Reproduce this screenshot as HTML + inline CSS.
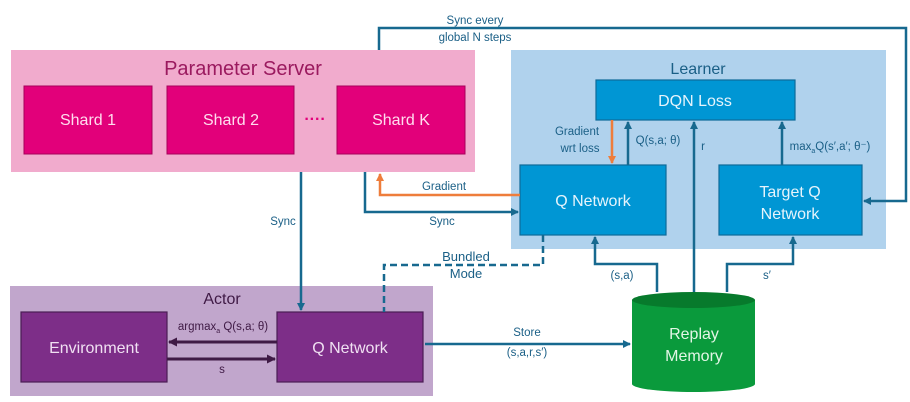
<!DOCTYPE html>
<html><head><meta charset="utf-8"><style>
html,body{margin:0;padding:0;background:#fff;width:910px;height:402px;overflow:hidden}
svg{display:block;font-family:"Liberation Sans",sans-serif}
</style></head><body>
<svg width="910" height="402" viewBox="0 0 910 402" xmlns="http://www.w3.org/2000/svg">
<defs>
<marker id="ab" markerWidth="8" markerHeight="8" refX="7" refY="4" orient="auto" markerUnits="userSpaceOnUse"><path d="M0,0 L8,4 L0,8 Z" fill="#17698f"/></marker>
<marker id="ao" markerWidth="8" markerHeight="8" refX="7" refY="4" orient="auto" markerUnits="userSpaceOnUse"><path d="M0,0 L8,4 L0,8 Z" fill="#ee7d3b"/></marker>
<marker id="ap" markerWidth="9" markerHeight="9" refX="8" refY="4.5" orient="auto" markerUnits="userSpaceOnUse"><path d="M0,0 L9,4.5 L0,9 Z" fill="#3f1a45"/></marker>
</defs>
<!-- containers -->
<rect x="11" y="50" width="464" height="122" fill="#f1abcd"/>
<rect x="511" y="50" width="375" height="199" fill="#b0d2ed"/>
<rect x="10" y="286" width="423" height="110" fill="#c1a6cc"/>
<text x="243" y="75" font-size="20" fill="#9b1a5f" text-anchor="middle">Parameter Server</text>
<text x="698" y="74" font-size="16" fill="#1a5f86" text-anchor="middle">Learner</text>
<text x="222" y="304" font-size="16" fill="#3f1a45" text-anchor="middle">Actor</text>
<!-- shards -->
<g fill="#e2007a" stroke="#a8005a" stroke-width="1">
<rect x="24" y="86" width="128" height="68"/><rect x="167" y="86" width="127" height="68"/><rect x="337" y="86" width="128" height="68"/></g>
<g font-size="16" fill="#fde" text-anchor="middle">
<text x="88" y="125">Shard 1</text><text x="231" y="125">Shard 2</text><text x="401" y="125">Shard K</text></g>
<text x="315" y="124" font-size="16" fill="#e2007a" text-anchor="middle" font-weight="bold">····</text>
<!-- learner boxes -->
<g fill="#0096d4" stroke="#0d6a9a" stroke-width="1.2">
<rect x="596" y="80" width="199" height="40"/><rect x="520" y="165" width="146" height="70"/><rect x="719" y="165" width="143" height="70"/></g>
<g font-size="16" fill="#e6f4fc" text-anchor="middle">
<text x="695" y="106">DQN Loss</text><text x="593" y="206">Q Network</text>
<text x="790" y="197">Target Q</text><text x="790" y="219">Network</text></g>
<!-- actor boxes -->
<g fill="#7d2e88" stroke="#4a1d54" stroke-width="1.2">
<rect x="21" y="312" width="146" height="70"/><rect x="277" y="312" width="146" height="70"/></g>
<g font-size="16" fill="#f0e0f2" text-anchor="middle">
<text x="94" y="353">Environment</text><text x="350" y="353">Q Network</text></g>
<!-- replay -->
<path d="M632,300 L632,384 A61.5,8 0 0 0 755,384 L755,300 Z" fill="#0a9a3c"/>
<ellipse cx="693.5" cy="300" rx="61.5" ry="8" fill="#077a2c"/>
<g font-size="16" fill="#e3f6e6" text-anchor="middle"><text x="694" y="339">Replay</text><text x="694" y="361">Memory</text></g>
<!-- connectors -->
<g fill="none" stroke="#17698f" stroke-width="2.5">
<polyline points="379,50 379,28 906,28 906,201 864,201" marker-end="url(#ab)"/>
<line x1="301" y1="172" x2="301" y2="310" marker-end="url(#ab)"/>
<polyline points="365,172 365,212 518,212" marker-end="url(#ab)"/>
<line x1="425" y1="344" x2="630" y2="344" marker-end="url(#ab)"/>
<line x1="628" y1="165" x2="628" y2="122" marker-end="url(#ab)"/>
<line x1="694" y1="292" x2="694" y2="122" marker-end="url(#ab)"/>
<line x1="782" y1="165" x2="782" y2="122" marker-end="url(#ab)"/>
<polyline points="657,292 657,264 595,264 595,237" marker-end="url(#ab)"/>
<polyline points="727,292 727,264 793,264 793,237" marker-end="url(#ab)"/>
<polyline points="543,235 543,265 384,265 384,312" stroke-dasharray="7,4"/>
</g>
<g fill="none" stroke="#ee7d3b" stroke-width="2.5">
<polyline points="520,195 380,195 380,174" marker-end="url(#ao)"/>
<line x1="612" y1="120" x2="612" y2="163" marker-end="url(#ao)"/>
</g>
<g stroke="#3f1a45" stroke-width="3">
<line x1="277" y1="342" x2="169" y2="342" marker-end="url(#ap)"/>
<line x1="167" y1="359" x2="275" y2="359" marker-end="url(#ap)"/>
</g>
<!-- labels -->
<g font-size="11.5" fill="#1a5f86" text-anchor="middle">
<text x="475" y="24">Sync every</text><text x="475" y="41">global N steps</text>
<text x="283" y="225">Sync</text><text x="442" y="225">Sync</text>
<text x="444" y="190">Gradient</text>
<text x="577" y="135">Gradient</text><text x="580" y="152">wrt loss</text>
<text x="658" y="144">Q(s,a; θ)</text><text x="703" y="150">r</text>
<text x="830" y="150">max<tspan font-size="7" dy="3">a</tspan><tspan dy="-3">Q(s′,a′; θ⁻)</tspan></text>
<text x="622" y="279">(s,a)</text><text x="767" y="279">s′</text>
<text x="527" y="336">Store</text><text x="527" y="356">(s,a,r,s′)</text>
</g>
<g font-size="13" fill="#1a5f86" text-anchor="middle"><text x="466" y="261">Bundled</text><text x="466" y="278">Mode</text></g>
<g font-size="11.5" fill="#3f1a45" text-anchor="middle">
<text x="223" y="330">argmax<tspan font-size="7" dy="3">a</tspan><tspan dy="-3"> Q(s,a; θ)</tspan></text>
<text x="222" y="373">s</text></g>
</svg>
</body></html>
